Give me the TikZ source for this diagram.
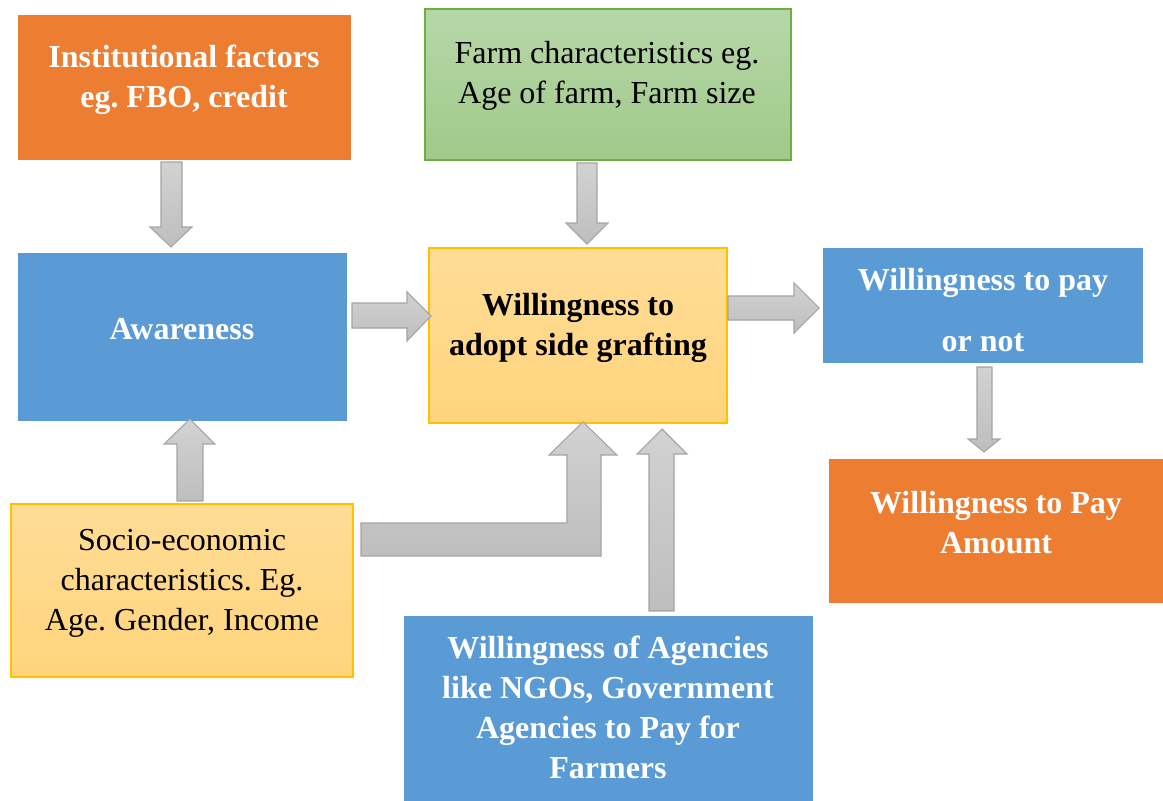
\documentclass[tikz,border=0pt]{standalone}
\usepackage{fontspec}
\setmainfont{Liberation Serif}
\frenchspacing
\definecolor{orng}{HTML}{ED7D31}
\definecolor{blu}{HTML}{5B9BD5}
\definecolor{grnT}{HTML}{B7D7A8}
\definecolor{grnB}{HTML}{A0C98A}
\definecolor{grnD}{HTML}{70AD47}
\definecolor{ylwT}{HTML}{FFDC96}
\definecolor{ylwB}{HTML}{FFD47C}
\definecolor{ylwD}{HTML}{FFC000}
\definecolor{gryT}{HTML}{D2D2D2}
\definecolor{gryB}{HTML}{BEBEBE}
\definecolor{gryD}{HTML}{A5A5A5}
\tikzset{
  box/.style={rectangle, inner sep=0pt, outer sep=0pt},
  orangebox/.style={box, fill=orng},
  bluebox/.style={box, fill=blu},
  greenbox/.style={box, top color=grnT, bottom color=grnB, draw=grnD, line width=0.9pt},
  yellowbox/.style={box, top color=ylwT, bottom color=ylwB, draw=ylwD, line width=0.9pt},
  txt/.style={align=center, inner sep=0pt, font=\fontsize{24}{30}\selectfont},
  wtxt/.style={txt, text=white, font=\fontsize{24}{30}\selectfont\bfseries},
  btxt/.style={txt, text=black, font=\fontsize{24}{30}\selectfont\bfseries},
  blockarrow/.style={draw=gryD, line width=0.8pt, line join=miter},
  vgrad/.style={blockarrow, top color=gryT, bottom color=gryB},
  hgrad/.style={blockarrow, top color=gryT, bottom color=gryB},
}
\begin{document}
\begin{tikzpicture}[x=0.75pt,y=-0.75pt]
\useasboundingbox (0,0) rectangle (1163,800);
% boxes
\node[orangebox, minimum width=333*0.75pt, minimum height=145*0.75pt] (inst) at (184.5,87.5) {};
\node[greenbox, minimum width=366*0.75pt, minimum height=151*0.75pt] (farm) at (608,84.5) {};
\node[bluebox, minimum width=329*0.75pt, minimum height=168*0.75pt] (aw) at (182.5,337) {};
\node[yellowbox, minimum width=298*0.75pt, minimum height=175*0.75pt] (will) at (578,335.5) {};
\node[bluebox, minimum width=320*0.75pt, minimum height=115*0.75pt] (wtp) at (983,305.5) {};
\node[orangebox, minimum width=334*0.75pt, minimum height=144*0.75pt] (amt) at (996,531) {};
\node[yellowbox, minimum width=342*0.75pt, minimum height=173*0.75pt] (socio) at (182,590.5) {};
\node[bluebox, minimum width=409*0.75pt, minimum height=186*0.75pt] (agen) at (608.5,709) {};
% texts
\node[wtxt] (instT) at (184,80) {Institutional factors\\eg. FBO, credit};
\node[txt] (farmT) at (607,76) {Farm characteristics eg.\\Age of farm, Farm size};
\node[wtxt] (awT) at (182,329) {Awareness};
\node[btxt] (willT) at (578,328) {Willingness to\\adopt side grafting};
\node[wtxt] (wtpT) at (983,310) {Willingness to pay\\[15.75pt]or not};
\node[wtxt] (amtT) at (996,523) {Willingness to Pay\\Amount};
\node[txt] (socioT) at (182,583) {Socio-economic\\characteristics. Eg.\\Age. Gender, Income};
\node[wtxt] (agenT) at (608,707) {Willingness of Agencies\\like NGOs, Government\\Agencies to Pay for\\Farmers};
% block arrows
% institutional -> awareness
\draw[vgrad] (161,162) -- (182,162) -- (182,227) -- (192,227) -- (171,247) -- (150,227) -- (161,227) -- cycle;
% farm -> willingness
\draw[vgrad] (577,163) -- (597,163) -- (597,223) -- (608,223) -- (587,244) -- (566,223) -- (577,223) -- cycle;
% awareness -> willingness
\draw[hgrad] (352,303) -- (407,303) -- (407,292) -- (431,316) -- (407,341) -- (407,328) -- (352,328) -- cycle;
% willingness -> wtp
\draw[hgrad] (728,296) -- (794,296) -- (794,283) -- (819,308) -- (794,333) -- (794,320) -- (728,320) -- cycle;
% socio -> awareness
\draw[vgrad] (177,501) -- (203,501) -- (203,444) -- (215,444) -- (190,419) -- (164,444) -- (177,444) -- cycle;
% socio -> willingness (bent)
\draw[vgrad] (361,523) -- (567,523) -- (567,455) -- (549,455) -- (583,422) -- (617,455) -- (601,455) -- (601,556) -- (361,556) -- cycle;
% agencies -> willingness
\draw[vgrad] (649,611) -- (674,611) -- (674,454) -- (687,454) -- (662,429) -- (637,454) -- (649,454) -- cycle;
% wtp -> amount
\draw[vgrad] (977,367) -- (992,367) -- (992,439) -- (1000,439) -- (984,452) -- (968,439) -- (977,439) -- cycle;
\end{tikzpicture}
\end{document}
